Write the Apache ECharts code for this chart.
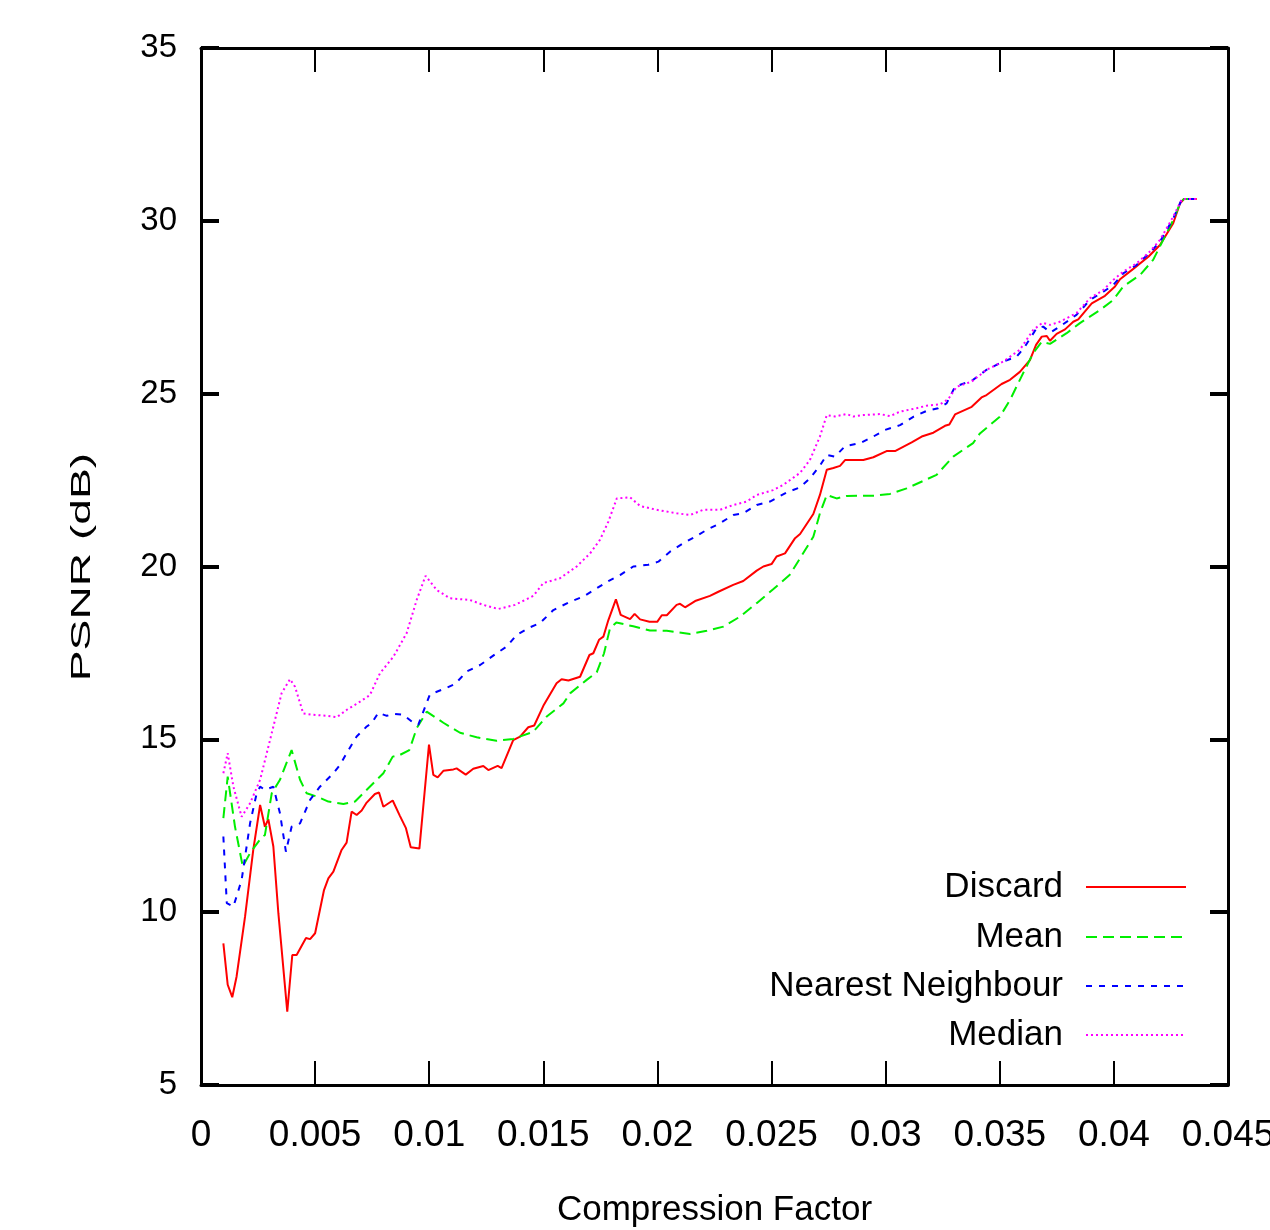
<!DOCTYPE html>
<html>
<head>
<meta charset="utf-8">
<script src="https://cdn.jsdelivr.net/npm/echarts@6/dist/echarts.min.js"></script>
<style>
  html, body { margin: 0; padding: 0; background: #fff; overflow: hidden; }
  #chart { width: 1270px; height: 1230px; }
</style>
</head>
<body>
<div id="chart"></div>
<script>
// values
var discardX = [0.00098, 0.00117, 0.00137, 0.00156, 0.00193, 0.00229, 0.00259, 0.00280, 0.00295, 0.00317, 0.00339, 0.00378, 0.00400, 0.00419, 0.00460, 0.00478, 0.00500, 0.00539, 0.00558, 0.00580, 0.00616, 0.00638, 0.00660, 0.00682, 0.00704, 0.00726, 0.00762, 0.00780, 0.00799, 0.00840, 0.00872, 0.00898, 0.00919, 0.00957, 0.00999, 0.01018, 0.01037, 0.01062, 0.01106, 0.01120, 0.01160, 0.01193, 0.01237, 0.01259, 0.01300, 0.01317, 0.01368, 0.01398, 0.01434, 0.01460, 0.01500, 0.01558, 0.01580, 0.01610, 0.01661, 0.01702, 0.01719, 0.01744, 0.01763, 0.01785, 0.01818, 0.01839, 0.01880, 0.01900, 0.01924, 0.01965, 0.01999, 0.02019, 0.02041, 0.02084, 0.02099, 0.02121, 0.02165, 0.02230, 0.02267, 0.02332, 0.02376, 0.02435, 0.02464, 0.02500, 0.02522, 0.02559, 0.02603, 0.02625, 0.02683, 0.02712, 0.02742, 0.02771, 0.02800, 0.02822, 0.02902, 0.02946, 0.03004, 0.03041, 0.03114, 0.03158, 0.03209, 0.03260, 0.03279, 0.03304, 0.03377, 0.03420, 0.03442, 0.03508, 0.03545, 0.03588, 0.03632, 0.03659, 0.03684, 0.03706, 0.03720, 0.03749, 0.03786, 0.03822, 0.03844, 0.03903, 0.03961, 0.04005, 0.04027, 0.04085, 0.04151, 0.04202, 0.04260, 0.04290, 0.04307, 0.04363];
var discardY = [9.10, 7.90, 7.54, 8.14, 9.87, 11.80, 13.10, 12.47, 12.69, 11.90, 9.97, 7.12, 8.76, 8.76, 9.25, 9.22, 9.39, 10.64, 10.98, 11.17, 11.80, 12.01, 12.91, 12.81, 12.94, 13.17, 13.42, 13.46, 13.05, 13.23, 12.78, 12.43, 11.88, 11.84, 14.85, 13.97, 13.90, 14.09, 14.13, 14.16, 13.98, 14.15, 14.23, 14.11, 14.23, 14.17, 14.98, 15.08, 15.35, 15.40, 15.97, 16.62, 16.74, 16.70, 16.81, 17.44, 17.49, 17.88, 17.97, 18.45, 19.05, 18.60, 18.48, 18.63, 18.47, 18.40, 18.40, 18.59, 18.59, 18.89, 18.92, 18.82, 19.00, 19.15, 19.27, 19.47, 19.58, 19.88, 20.00, 20.07, 20.29, 20.38, 20.82, 20.94, 21.52, 22.07, 22.80, 22.85, 22.91, 23.08, 23.08, 23.16, 23.34, 23.34, 23.59, 23.76, 23.87, 24.07, 24.11, 24.40, 24.62, 24.89, 24.96, 25.28, 25.40, 25.63, 25.97, 26.41, 26.65, 26.67, 26.53, 26.73, 26.86, 27.08, 27.15, 27.61, 27.83, 28.10, 28.31, 28.61, 28.96, 29.30, 29.93, 30.51, 30.63, 30.63];

var meanX = [0.00098, 0.00117, 0.00149, 0.00183, 0.00215, 0.00266, 0.00280, 0.00310, 0.00346, 0.00397, 0.00434, 0.00463, 0.00514, 0.00558, 0.00624, 0.00675, 0.00755, 0.00799, 0.00840, 0.00872, 0.00913, 0.00945, 0.00989, 0.01062, 0.01135, 0.01208, 0.01295, 0.01368, 0.01456, 0.01515, 0.01588, 0.01617, 0.01690, 0.01734, 0.01766, 0.01792, 0.01820, 0.01894, 0.01967, 0.02041, 0.02143, 0.02216, 0.02289, 0.02362, 0.02435, 0.02507, 0.02580, 0.02625, 0.02683, 0.02712, 0.02742, 0.02785, 0.02829, 0.02950, 0.03019, 0.03092, 0.03223, 0.03296, 0.03383, 0.03413, 0.03500, 0.03545, 0.03588, 0.03646, 0.03684, 0.03720, 0.03793, 0.03851, 0.03939, 0.03997, 0.04041, 0.04114, 0.04172, 0.04216, 0.04260, 0.04290, 0.04307, 0.04363];
var meanY = [12.72, 13.92, 12.47, 11.32, 11.71, 12.17, 12.23, 13.44, 13.83, 14.69, 13.83, 13.44, 13.33, 13.20, 13.13, 13.20, 13.73, 14.02, 14.50, 14.55, 14.69, 15.32, 15.80, 15.48, 15.19, 15.06, 14.96, 15.01, 15.22, 15.66, 16.04, 16.33, 16.72, 16.94, 17.49, 18.21, 18.38, 18.27, 18.15, 18.14, 18.05, 18.14, 18.26, 18.55, 18.94, 19.34, 19.76, 20.24, 20.86, 21.54, 22.07, 21.97, 22.04, 22.05, 22.10, 22.26, 22.65, 23.18, 23.57, 23.85, 24.33, 24.82, 25.40, 26.17, 26.50, 26.44, 26.75, 27.04, 27.42, 27.71, 28.10, 28.43, 28.87, 29.45, 30.02, 30.51, 30.63, 30.63];

var nearestX = [0.00098, 0.00113, 0.00142, 0.00178, 0.00215, 0.00244, 0.00259, 0.00280, 0.00317, 0.00346, 0.00372, 0.00397, 0.00434, 0.00478, 0.00521, 0.00580, 0.00609, 0.00638, 0.00682, 0.00726, 0.00748, 0.00777, 0.00814, 0.00843, 0.00886, 0.00930, 0.00952, 0.01003, 0.01069, 0.01113, 0.01164, 0.01223, 0.01295, 0.01339, 0.01383, 0.01441, 0.01485, 0.01544, 0.01617, 0.01675, 0.01734, 0.01785, 0.01836, 0.01894, 0.01960, 0.02004, 0.02055, 0.02113, 0.02165, 0.02216, 0.02274, 0.02332, 0.02376, 0.02435, 0.02493, 0.02566, 0.02625, 0.02668, 0.02712, 0.02742, 0.02778, 0.02822, 0.02888, 0.02946, 0.02997, 0.03063, 0.03121, 0.03179, 0.03230, 0.03267, 0.03304, 0.03383, 0.03442, 0.03515, 0.03574, 0.03610, 0.03661, 0.03690, 0.03722, 0.03763, 0.03836, 0.03895, 0.03954, 0.03997, 0.04041, 0.04099, 0.04158, 0.04202, 0.04260, 0.04296, 0.04307, 0.04363];
var nearestY = [12.19, 10.26, 10.16, 10.93, 12.57, 13.44, 13.63, 13.54, 13.63, 12.86, 11.75, 12.47, 12.57, 13.25, 13.63, 14.02, 14.26, 14.60, 15.08, 15.37, 15.47, 15.77, 15.68, 15.74, 15.71, 15.48, 15.42, 16.30, 16.47, 16.60, 16.96, 17.15, 17.49, 17.68, 18.02, 18.24, 18.36, 18.74, 18.98, 19.13, 19.37, 19.58, 19.75, 20.00, 20.05, 20.14, 20.43, 20.67, 20.86, 21.06, 21.25, 21.49, 21.54, 21.78, 21.88, 22.14, 22.29, 22.55, 22.92, 23.23, 23.18, 23.48, 23.57, 23.76, 23.95, 24.09, 24.33, 24.50, 24.58, 24.72, 25.20, 25.40, 25.69, 25.93, 26.07, 26.36, 26.89, 26.94, 26.77, 26.94, 27.28, 27.71, 27.95, 28.14, 28.48, 28.72, 29.08, 29.40, 30.07, 30.60, 30.63, 30.63];

var medianX = [0.00098, 0.00117, 0.00142, 0.00178, 0.00215, 0.00259, 0.00310, 0.00353, 0.00390, 0.00412, 0.00448, 0.00492, 0.00551, 0.00595, 0.00638, 0.00697, 0.00740, 0.00784, 0.00843, 0.00901, 0.00945, 0.00984, 0.01033, 0.01091, 0.01179, 0.01237, 0.01302, 0.01376, 0.01456, 0.01500, 0.01573, 0.01646, 0.01705, 0.01748, 0.01785, 0.01822, 0.01880, 0.01924, 0.01997, 0.02084, 0.02143, 0.02201, 0.02274, 0.02332, 0.02391, 0.02435, 0.02507, 0.02551, 0.02625, 0.02668, 0.02712, 0.02742, 0.02778, 0.02829, 0.02858, 0.02902, 0.02975, 0.03019, 0.03063, 0.03136, 0.03179, 0.03238, 0.03274, 0.03311, 0.03377, 0.03442, 0.03515, 0.03588, 0.03646, 0.03687, 0.03720, 0.03763, 0.03836, 0.03895, 0.03954, 0.03997, 0.04041, 0.04099, 0.04158, 0.04202, 0.04260, 0.04296, 0.04307, 0.04363];
var medianY = [14.02, 14.60, 13.63, 12.76, 13.15, 13.83, 15.18, 16.33, 16.74, 16.52, 15.75, 15.71, 15.68, 15.64, 15.85, 16.09, 16.28, 16.91, 17.39, 18.07, 19.03, 19.73, 19.32, 19.08, 19.03, 18.89, 18.77, 18.89, 19.15, 19.52, 19.66, 20.00, 20.38, 20.77, 21.30, 21.97, 22.00, 21.75, 21.64, 21.54, 21.49, 21.64, 21.64, 21.78, 21.88, 22.07, 22.21, 22.36, 22.71, 23.08, 23.76, 24.38, 24.34, 24.41, 24.34, 24.38, 24.41, 24.35, 24.48, 24.58, 24.65, 24.69, 24.84, 25.20, 25.35, 25.69, 25.93, 26.27, 26.84, 27.05, 26.99, 27.08, 27.33, 27.76, 28.00, 28.29, 28.53, 28.77, 29.11, 29.45, 30.12, 30.60, 30.63, 30.63];

var seriesNames = ['Discard', 'Mean', 'Nearest Neighbour', 'Median'];
var xTicks = [0, 0.045, 0.005];   // min, max, step
var yTicks = [5, 35, 5];

var sans = "'Liberation Sans', Arial, Helvetica, sans-serif";

function pairs(xs, ys) {
  return xs.map(function (x, i) { return [x, ys[i]]; });
}

var myChart = echarts.init(document.getElementById('chart'), null, { renderer: 'canvas' });

function axisBase() {
  return {
    axisLine: { show: true, onZero: false, lineStyle: { color: '#000', width: 3 } },
    splitLine: { show: false },
    axisLabel: { show: false }
  };
}

var xBottom = Object.assign(axisBase(), {
  type: 'value', position: 'bottom',
  min: xTicks[0], max: xTicks[1], interval: xTicks[2],
  axisTick: { inside: true, length: 24, lineStyle: { color: '#000', width: 2 } },
  axisLabel: { show: true, color: '#000', fontSize: 37, fontFamily: sans, margin: 32, hideOverlap: false },
  name: 'Compression Factor',
  nameLocation: 'middle', nameGap: 108,
  nameTextStyle: { color: '#000', fontSize: 35, fontFamily: sans }
});
var xTop = Object.assign(axisBase(), {
  type: 'value', position: 'top',
  min: xTicks[0], max: xTicks[1], interval: xTicks[2],
  axisTick: { inside: true, length: 24, lineStyle: { color: '#000', width: 2 } }
});
var yLeft = Object.assign(axisBase(), {
  type: 'value', position: 'left',
  min: yTicks[0], max: yTicks[1], interval: yTicks[2],
  axisTick: { inside: true, length: 18, lineStyle: { color: '#000', width: 4 } },
  axisLabel: { show: true, color: '#000', fontSize: 33, fontFamily: sans, margin: 24 }
});
var yRight = Object.assign(axisBase(), {
  type: 'value', position: 'right',
  min: yTicks[0], max: yTicks[1], interval: yTicks[2],
  axisTick: { inside: true, length: 18, lineStyle: { color: '#000', width: 4 } }
});

var lineStyles = [
  { color: '#ff0000', width: 2, type: 'solid' },
  { color: '#00ee00', width: 2, type: [11, 6] },
  { color: '#0000ff', width: 2, type: [6, 7] },
  { color: '#ff00ff', width: 2, type: [2, 3] }
];
var seriesData = [
  pairs(discardX, discardY),
  pairs(meanX, meanY),
  pairs(nearestX, nearestY),
  pairs(medianX, medianY)
];

// one legend per row so the texts line up on their right edge
var legendRows = [887, 937, 986, 1035];
var legends = seriesNames.map(function (name, i) {
  return {
    data: [name],
    orient: 'horizontal',
    align: 'right',
    right: 83,
    top: legendRows[i] - 20,
    padding: 0,
    itemWidth: 100,
    itemHeight: 40,
    itemStyle: { opacity: 0 },
    textStyle: { color: '#000', fontSize: 35, fontFamily: sans, lineHeight: 40, padding: [0, 18, 0, 0] }
  };
});

var option = {
  animation: false,
  backgroundColor: '#fff',
  grid: { left: 201, right: 42, top: 48, bottom: 145, containLabel: false, outerBoundsMode: 'none' },
  xAxis: [xBottom, xTop],
  yAxis: [yLeft, yRight],
  legend: legends,
  graphic: [{
    type: 'text',
    x: 82, y: 567,
    rotation: Math.PI / 2,
    scaleX: 1.65,
    style: {
      text: 'PSNR (dB)',
      font: "28px 'Liberation Sans', Arial, sans-serif",
      fill: '#000',
      textAlign: 'center',
      textVerticalAlign: 'middle'
    }
  }],
  series: seriesNames.map(function (name, i) {
    return {
      name: name,
      type: 'line',
      xAxisIndex: 0,
      yAxisIndex: 0,
      symbol: 'none',
      lineStyle: lineStyles[i],
      itemStyle: { color: lineStyles[i].color },
      data: seriesData[i]
    };
  })
};
myChart.setOption(option);
</script>
</body>
</html>
